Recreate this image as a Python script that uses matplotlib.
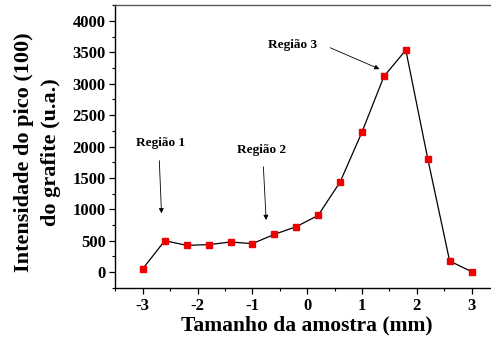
import matplotlib.pyplot as plt
from matplotlib import ticker

# Dados
tamanho = [-3.0, -2.6, -2.2, -1.8, -1.4, -1.0, -0.6, -0.2, 0.2, 0.6, 1.0, 1.4, 1.8, 2.2, 2.6, 3.0]
intensidade = [53, 499, 425, 436, 478, 452, 600, 722, 903, 1434, 2231, 3118, 3538, 1806, 175, 5]

regioes = ['Região 1', 'Região 2', 'Região 3']
texto_xy = [(-2.68, 2050), (-0.83, 1944), (-0.27, 3620)]
seta_ini = [(-2.70, 1775), (-0.80, 1678), (0.42, 3575)]
seta_fim = [(-2.66, 935), (-0.75, 829), (1.32, 3235)]

plt.rcParams['font.family'] = ['Liberation Serif', 'DejaVu Serif']
plt.rcParams['font.weight'] = 'bold'

fig = plt.figure(figsize=(4.91, 3.40), dpi=100)
ax = fig.add_axes([0.2352, 0.153, 0.781, 0.832])

ax.plot(tamanho, intensidade, color='black', lw=0.9, marker='s', ms=4.4,
        markerfacecolor='#ee0000', markeredgecolor='#ee0000')

for nome, txy, a0, a1 in zip(regioes, texto_xy, seta_ini, seta_fim):
    ax.text(txy[0], txy[1], nome, fontsize=9.5, fontweight='bold', ha='center', va='center')
    ax.annotate('', xy=a1, xytext=a0,
                arrowprops=dict(arrowstyle='-|>', color='black', lw=0.6,
                                mutation_scale=7, shrinkA=0, shrinkB=0))

ax.set_xlim(-3.5, 3.5)
ax.set_ylim(-255, 4255)
ax.xaxis.set_major_locator(ticker.MultipleLocator(1))
ax.xaxis.set_minor_locator(ticker.MultipleLocator(0.5))
ax.yaxis.set_major_locator(ticker.MultipleLocator(500))
ax.yaxis.set_minor_locator(ticker.MultipleLocator(250))
ax.xaxis.set_major_formatter(ticker.FuncFormatter(lambda v, p: '%d' % v))

ax.spines['right'].set_visible(False)
for s in ['left', 'bottom', 'top']:
    ax.spines[s].set_linewidth(1.0)
ax.spines['top'].set_color('#555555')
ax.tick_params(which='major', direction='out', length=4, width=0.9, labelsize=12, pad=3)
ax.tick_params(which='minor', direction='out', length=2.5, width=0.8)
for lab in ax.get_xticklabels() + ax.get_yticklabels():
    lab.set_fontweight('bold')

ax.set_xlabel('Tamanho da amostra (mm)', fontsize=15.5, fontweight='bold', va='center')
ax.xaxis.set_label_coords(0.5, -0.131)
ax.set_ylabel('Intensidade do pico (100)\ndo grafite (u.a.)', fontsize=16,
              fontweight='bold', linespacing=1.5, va='center')
ax.yaxis.set_label_coords(-0.203, 0.479)

fig.savefig('out.png', dpi=100)
